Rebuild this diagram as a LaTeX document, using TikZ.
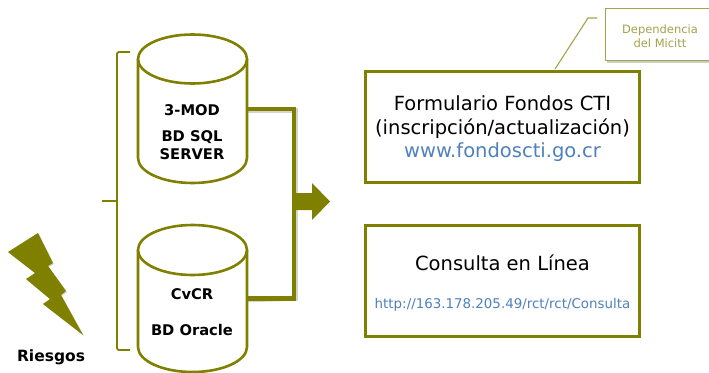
\documentclass[tikz,border=0pt]{standalone}
\usepackage{fontspec}
\setmainfont{DejaVu Sans}
\usetikzlibrary{calc}
\definecolor{oliva}{HTML}{808000}
\definecolor{oliva2}{HTML}{A3A34A}
\definecolor{enlace}{HTML}{4F81BD}
\definecolor{sombra}{HTML}{B8B8B0}
\tikzset{
 x=1pt,y=-1pt,
 dbedge/.style={draw=oliva,line width=2.6pt,fill=white},
 boxnode/.style={draw=oliva,line width=3pt,fill=white,minimum width=273.5pt,minimum height=111pt,inner sep=0pt,outer sep=0pt,anchor=north west},
 dbtitle/.style={font=\fontsize{14.7}{18}\selectfont\bfseries,align=center,text=black},
 pipe/.style={draw=oliva,line width=4.6pt,line join=miter},
 pipeshadow/.style={draw=sombra,line width=4.6pt,opacity=.6},
 bracket/.style={draw=oliva,line width=1.8pt,rounded corners=2pt},
 leader/.style={draw=oliva2,line width=1.1pt},
 softshadow/.style={fill=sombra,draw=none,opacity=.7},
 main/.style={font=\fontsize{19.5}{24}\selectfont,align=center,text=black},
}
\begin{document}
\begin{tikzpicture}
\useasboundingbox (0,0) rectangle (709,372);
% reference points
\node[minimum width=109pt,minimum height=124pt,inner sep=0pt,outer sep=0pt,anchor=north west] (dbA) at (138,59) {};
\node[minimum width=109pt,minimum height=124pt,inner sep=0pt,outer sep=0pt,anchor=north west] (dbB) at (138,250) {};
\coordinate (joinA) at (294,109);
\coordinate (joinB) at (294,298.5);
\coordinate (outA) at (247,109);
\coordinate (outB) at (247,298.5);
% bracket
\coordinate (brTop) at (130,52);
\coordinate (brBot) at (130,350);
\coordinate (brMid) at (117,201);
\coordinate (brTip) at (102,201);
\draw[bracket] (brTop) -| (brMid) |- (brBot);
\draw[bracket,rounded corners=0pt] (brTip) -- (brMid);
% pipes
\draw[pipeshadow] ($(outA)+(0,1.5)$) -| ($(joinB)+(1.5,0)$) -- ($(outB)+(0,1.5)$);
\draw[pipe] (outA) -| (joinB) -- (outB);
\fill[oliva] (294,193) -- (312,193) -- (312,183) -- (330,201.5) -- (312,220) -- (312,210) -- (294,210) -- cycle;
% cylinder A
\draw[dbedge] (dbA.north west) -- (dbA.west |- 0,158) arc[start angle=180,end angle=0,x radius=54.5,y radius=25] -- (dbA.north east);
\draw[dbedge] ($(dbA.north west)!.5!(dbA.north east)$) ellipse[x radius=54.5,y radius=24.5];
\node[dbtitle] (tA) at (192,110) {3-MOD};
\node[dbtitle,font=\fontsize{14.7}{18}\selectfont\bfseries] (tA2) at (192,145) {BD SQL\\SERVER};
% cylinder B
\draw[dbedge] (dbB.north west) -- (dbB.west |- 0,347) arc[start angle=180,end angle=0,x radius=54.5,y radius=25] -- (dbB.north east);
\draw[dbedge] ($(dbB.north west)!.5!(dbB.north east)$) ellipse[x radius=54.5,y radius=25];
\node[dbtitle] (tB) at (192,294) {CvCR};
\node[dbtitle] (tB2) at (192,330) {BD Oracle};
% boxes
\node[boxnode] (box1) at (365.8,71.5) {};
\node[main] (f1) at (502.5,117) {Formulario Fondos CTI\\(inscripción/actualización)};
\node[font=\fontsize{19.5}{24}\selectfont,text=enlace] (f2) at (502.5,152) {www.fondoscti.go.cr};
\node[boxnode] (box2) at (365.8,225.5) {};
\node[main] (c1) at (502.5,263) {Consulta en Línea};
\node[font=\fontsize{13.4}{16}\selectfont,text=enlace] (c2) at (502.5,305) {http://163.178.205.49/rct/rct/Consulta};
% callout
\fill[softshadow] (607,10) rectangle (711,63);
\node[draw=oliva2,line width=1.1pt,fill=white,minimum width=106pt,minimum height=52pt,inner sep=0pt,outer sep=0pt,anchor=north west] (dep) at (605.5,8.5) {};
\node[text=oliva2,align=center,font=\fontsize{11.5}{14.5}\selectfont] (deptext) at (660,36) {Dependencia\\del Micitt};
\coordinate (ldEnd) at (597,18);
\coordinate (ldMid) at (588,18);
\coordinate (ldTip) at (555,69);
\draw[leader] (ldEnd) -- (ldMid) -- (ldTip);
% bolt
\fill[sombra,opacity=.6,shift={(1,1)}] (8,252) -- (38,233) -- (53,263) -- (48,266) -- (66,291) -- (61,295) -- (83,335) -- (43,304) -- (50,299) -- (26,279) -- (35,273) -- cycle;
\fill[oliva] (8,252) -- (38,233) -- (53,263) -- (48,266) -- (66,291) -- (61,295) -- (83,335) -- (43,304) -- (50,299) -- (26,279) -- (35,273) -- cycle;
\node[font=\fontsize{15.5}{18}\selectfont\bfseries,text=black] (rg) at (51,357) {Riesgos};
\end{tikzpicture}
\end{document}
